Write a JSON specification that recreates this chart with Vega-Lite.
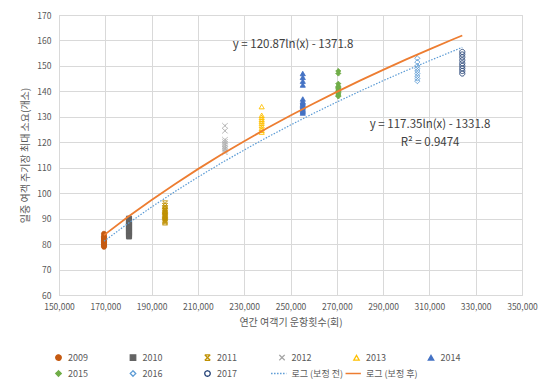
{
  "$schema": "https://vega.github.io/schema/vega-lite/v6.json",
  "width": 463,
  "height": 280,
  "autosize": "none",
  "padding": {"left": 59, "top": 15, "right": 19, "bottom": 91},
  "background": "white",
  "config": {
    "font": "Noto Sans CJK KR",
    "view": {"stroke": "#d9d9d9", "strokeWidth": 1},
    "axis": {
      "gridColor": "#d9d9d9",
      "gridWidth": 1,
      "domainColor": "#d9d9d9",
      "ticks": false,
      "labelOverlap": false,
      "labelColor": "#595959",
      "labelFontSize": 8.5,
      "titleColor": "#595959",
      "titleFontSize": 10,
      "titleFontWeight": "normal"
    },
    "legend": {
      "title": null,
      "orient": "none",
      "legendX": -5,
      "legendY": 338,
      "direction": "horizontal",
      "columns": 6,
      "gridAlign": "all",
      "columnPadding": -1.5,
      "rowPadding": 5,
      "symbolSize": 30,
      "symbolStrokeWidth": 1.3,
      "labelFontSize": 9,
      "labelColor": "#595959",
      "labelOffset": 5
    }
  },
  "datasets": {
    "pts": [
      {"year": "2009", "x": 169440, "y": 79}, {"year": "2009", "x": 169440, "y": 79.5}, {"year": "2009", "x": 169440, "y": 80}, {"year": "2009", "x": 169440, "y": 80.5}, {"year": "2009", "x": 169440, "y": 81}, {"year": "2009", "x": 169440, "y": 81.5}, {"year": "2009", "x": 169440, "y": 82}, {"year": "2009", "x": 169440, "y": 82.5}, {"year": "2009", "x": 169440, "y": 83}, {"year": "2009", "x": 169440, "y": 84},
      {"year": "2010", "x": 180240, "y": 83}, {"year": "2010", "x": 180240, "y": 83.5}, {"year": "2010", "x": 180240, "y": 84}, {"year": "2010", "x": 180240, "y": 84.5}, {"year": "2010", "x": 180240, "y": 85}, {"year": "2010", "x": 180240, "y": 85.5}, {"year": "2010", "x": 180240, "y": 86}, {"year": "2010", "x": 180240, "y": 86.5}, {"year": "2010", "x": 180240, "y": 87}, {"year": "2010", "x": 180240, "y": 87.5}, {"year": "2010", "x": 180240, "y": 88}, {"year": "2010", "x": 180240, "y": 88.5}, {"year": "2010", "x": 180240, "y": 89}, {"year": "2010", "x": 180240, "y": 90},
      {"year": "2011", "x": 195800, "y": 88.5}, {"year": "2011", "x": 195800, "y": 89}, {"year": "2011", "x": 195800, "y": 89.5}, {"year": "2011", "x": 195800, "y": 90}, {"year": "2011", "x": 195800, "y": 90.5}, {"year": "2011", "x": 195800, "y": 91}, {"year": "2011", "x": 195800, "y": 91.5}, {"year": "2011", "x": 195800, "y": 92}, {"year": "2011", "x": 195800, "y": 92.5}, {"year": "2011", "x": 195800, "y": 93}, {"year": "2011", "x": 195800, "y": 93.5}, {"year": "2011", "x": 195800, "y": 94}, {"year": "2011", "x": 195800, "y": 95}, {"year": "2011", "x": 195800, "y": 96},
      {"year": "2012", "x": 221700, "y": 116}, {"year": "2012", "x": 221700, "y": 116.7}, {"year": "2012", "x": 221700, "y": 117.4}, {"year": "2012", "x": 221700, "y": 118}, {"year": "2012", "x": 221700, "y": 118.7}, {"year": "2012", "x": 221700, "y": 119.4}, {"year": "2012", "x": 221700, "y": 120.2}, {"year": "2012", "x": 221700, "y": 121}, {"year": "2012", "x": 221700, "y": 124.5}, {"year": "2012", "x": 221700, "y": 126.5},
      {"year": "2013", "x": 237560, "y": 124}, {"year": "2013", "x": 237560, "y": 124.7}, {"year": "2013", "x": 237560, "y": 125.5}, {"year": "2013", "x": 237560, "y": 126.5}, {"year": "2013", "x": 237560, "y": 127.5}, {"year": "2013", "x": 237560, "y": 128.3}, {"year": "2013", "x": 237560, "y": 129}, {"year": "2013", "x": 237560, "y": 129.8}, {"year": "2013", "x": 237560, "y": 130.6}, {"year": "2013", "x": 237560, "y": 134},
      {"year": "2014", "x": 255300, "y": 131.5}, {"year": "2014", "x": 255300, "y": 132}, {"year": "2014", "x": 255300, "y": 132.5}, {"year": "2014", "x": 255300, "y": 133}, {"year": "2014", "x": 255300, "y": 133.5}, {"year": "2014", "x": 255300, "y": 134}, {"year": "2014", "x": 255300, "y": 134.5}, {"year": "2014", "x": 255300, "y": 135}, {"year": "2014", "x": 255300, "y": 135.5}, {"year": "2014", "x": 255300, "y": 136}, {"year": "2014", "x": 255300, "y": 137}, {"year": "2014", "x": 255300, "y": 142.5}, {"year": "2014", "x": 255300, "y": 144}, {"year": "2014", "x": 255300, "y": 145.5}, {"year": "2014", "x": 255300, "y": 147},
      {"year": "2015", "x": 270650, "y": 138}, {"year": "2015", "x": 270650, "y": 138.5}, {"year": "2015", "x": 270650, "y": 139}, {"year": "2015", "x": 270650, "y": 139.5}, {"year": "2015", "x": 270650, "y": 140}, {"year": "2015", "x": 270650, "y": 140.5}, {"year": "2015", "x": 270650, "y": 141}, {"year": "2015", "x": 270650, "y": 141.5}, {"year": "2015", "x": 270650, "y": 142}, {"year": "2015", "x": 270650, "y": 143}, {"year": "2015", "x": 270650, "y": 147}, {"year": "2015", "x": 270650, "y": 148},
      {"year": "2016", "x": 304800, "y": 144}, {"year": "2016", "x": 304800, "y": 145}, {"year": "2016", "x": 304800, "y": 146}, {"year": "2016", "x": 304800, "y": 147}, {"year": "2016", "x": 304800, "y": 148}, {"year": "2016", "x": 304800, "y": 149}, {"year": "2016", "x": 304800, "y": 150}, {"year": "2016", "x": 304800, "y": 151.5}, {"year": "2016", "x": 304800, "y": 153},
      {"year": "2017", "x": 324200, "y": 147}, {"year": "2017", "x": 324200, "y": 148}, {"year": "2017", "x": 324200, "y": 149}, {"year": "2017", "x": 324200, "y": 150}, {"year": "2017", "x": 324200, "y": 151}, {"year": "2017", "x": 324200, "y": 152.2}, {"year": "2017", "x": 324200, "y": 153.4}, {"year": "2017", "x": 324200, "y": 154.5}, {"year": "2017", "x": 324200, "y": 155.5}
    ],
    "lines": [
      {"series": "before", "x": 169440, "y": 81.13}, {"series": "before", "x": 180000, "y": 88.22}, {"series": "before", "x": 190000, "y": 94.56}, {"series": "before", "x": 200000, "y": 100.58}, {"series": "before", "x": 210000, "y": 106.31}, {"series": "before", "x": 220000, "y": 111.77}, {"series": "before", "x": 230000, "y": 116.98}, {"series": "before", "x": 240000, "y": 121.98}, {"series": "before", "x": 250000, "y": 126.77}, {"series": "before", "x": 260000, "y": 131.37}, {"series": "before", "x": 270000, "y": 135.8}, {"series": "before", "x": 280000, "y": 140.07}, {"series": "before", "x": 290000, "y": 144.19}, {"series": "before", "x": 300000, "y": 148.16}, {"series": "before", "x": 310000, "y": 152.01}, {"series": "before", "x": 320000, "y": 155.74}, {"series": "before", "x": 324200, "y": 157.27},
      {"series": "after", "x": 169440, "y": 83.51}, {"series": "after", "x": 180000, "y": 90.81}, {"series": "after", "x": 190000, "y": 97.35}, {"series": "after", "x": 200000, "y": 103.55}, {"series": "after", "x": 210000, "y": 109.45}, {"series": "after", "x": 220000, "y": 115.07}, {"series": "after", "x": 230000, "y": 120.44}, {"series": "after", "x": 240000, "y": 125.59}, {"series": "after", "x": 250000, "y": 130.52}, {"series": "after", "x": 260000, "y": 135.26}, {"series": "after", "x": 270000, "y": 139.82}, {"series": "after", "x": 280000, "y": 144.22}, {"series": "after", "x": 290000, "y": 148.46}, {"series": "after", "x": 300000, "y": 152.56}, {"series": "after", "x": 310000, "y": 156.52}, {"series": "after", "x": 320000, "y": 160.36}, {"series": "after", "x": 324200, "y": 161.93}
    ],
    "labels": [
      {"text": "y = 120.87ln(x) - 1371.8", "x": 251100, "y": 158.2},
      {"text": "y = 117.35ln(x) - 1331.8", "x": 310300, "y": 126.8},
      {"text": "R² = 0.9474", "x": 310300, "y": 119.7}
    ]
  },
  "encoding": {
    "x": {"field": "x", "type": "quantitative", "scale": {"domain": [150000, 350000], "nice": false, "zero": false}, "axis": {"values": [150000, 170000, 190000, 210000, 230000, 250000, 270000, 290000, 310000, 330000, 350000], "tickCount": 11, "format": ",d", "title": "연간 여객기 운항횟수(회)", "labelPadding": 7, "titlePadding": 7, "labelFlush": false, "labelOverlap": false}},
    "y": {"field": "y", "type": "quantitative", "scale": {"domain": [60, 170], "nice": false, "zero": false}, "axis": {"values": [60, 70, 80, 90, 100, 110, 120, 130, 140, 150, 160, 170], "tickCount": 12, "title": "일중 여객 주기장 최대 소요(개소)", "labelPadding": 8, "titlePadding": 6, "labelOverlap": false, "labelFlush": false}}
  },
  "layer": [
    {
      "data": {"name": "pts"},
      "mark": {"type": "point", "size": 26, "opacity": 1, "strokeWidth": 1},
      "encoding": {
        "stroke": {
          "field": "year", "type": "nominal",
          "scale": {
            "domain": ["2009", "2010", "2011", "2012", "2013", "2014", "2015", "2016", "2017", "로그 (보정 전)", "로그 (보정 후)"],
            "range": ["#C55A11", "#636363", "#BF9000", "#A5A5A5", "#FFC000", "#4472C4", "#70AD47", "#5B9BD5", "#264478", "#5B9BD5", "#ED7D31"]
          }
        },
        "fill": {
          "field": "year", "type": "nominal",
          "scale": {
            "domain": ["2009", "2010", "2011", "2012", "2013", "2014", "2015", "2016", "2017", "로그 (보정 전)", "로그 (보정 후)"],
            "range": ["#C55A11", "#636363", "transparent", "transparent", "transparent", "#4472C4", "#70AD47", "transparent", "transparent", "transparent", "transparent"]
          }
        },
        "strokeDash": {
          "field": "year", "type": "nominal",
          "scale": {
            "domain": ["2009", "2010", "2011", "2012", "2013", "2014", "2015", "2016", "2017", "로그 (보정 전)", "로그 (보정 후)"],
            "range": [[1, 0], [1, 0], [1, 0], [1, 0], [1, 0], [1, 0], [1, 0], [1, 0], [1, 0], [1.5, 1.5], [1, 0]]
          }
        },
        "shape": {
          "field": "year", "type": "nominal",
          "scale": {
            "domain": ["2009", "2010", "2011", "2012", "2013", "2014", "2015", "2016", "2017", "로그 (보정 전)", "로그 (보정 후)"],
            "range": ["circle", "square", "M-1,-1L1,1M-1,1L1,-1M-1,-1H1M-1,1H1", "M-1,-1L1,1M-1,1L1,-1", "triangle-up", "triangle-up", "diamond", "diamond", "circle", "M-4,0H1.6", "M-4,0H1.6"]
          }
        }
      }
    },
    {
      "data": {"name": "lines"},
      "transform": [{"filter": "datum.series == 'before'"}],
      "mark": {"type": "line", "color": "#5B9BD5", "strokeWidth": 1.2, "strokeDash": [1.5, 1.5]},
      "encoding": {}
    },
    {
      "data": {"name": "lines"},
      "transform": [{"filter": "datum.series == 'after'"}],
      "mark": {"type": "line", "color": "#ED7D31", "strokeWidth": 1.8},
      "encoding": {}
    },
    {
      "data": {"name": "labels"},
      "mark": {"type": "text", "fontSize": 11.5, "color": "#404040", "align": "center", "baseline": "middle"},
      "encoding": {
        "text": {"field": "text"}
      }
    }
  ]
}
